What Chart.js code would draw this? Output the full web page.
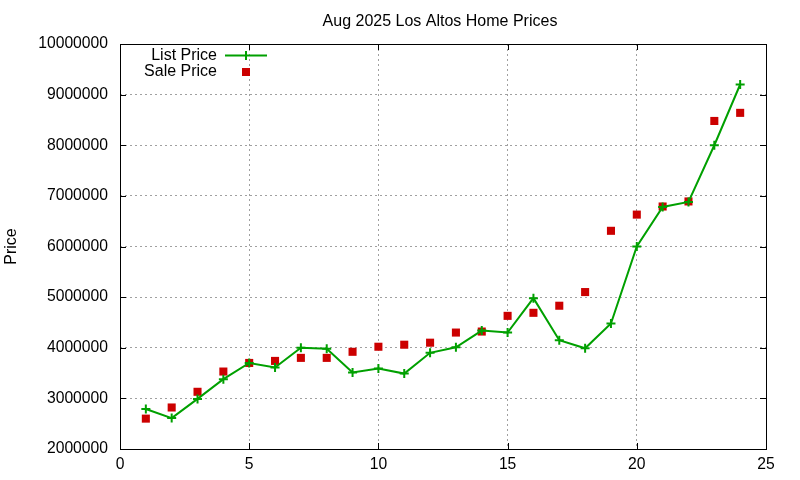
<!DOCTYPE html>
<html>
<head>
<meta charset="utf-8">
<script src="https://cdn.jsdelivr.net/npm/chart.js@4/dist/chart.umd.min.js"></script>
<style>
html,body{margin:0;padding:0;background:#fff;}
#wrap{width:800px;height:480px;}
</style>
</head>
<body>
<div id="wrap"><canvas id="c" width="800" height="480"></canvas></div>
<script>
const months = [1,2,3,4,5,6,7,8,9,10,11,12,13,14,15,16,17,18,19,20,21,22,23,24];
const listPrice = [2790000,2610000,2990000,3380000,3700000,3610000,4000000,3980000,3510000,3590000,3490000,3900000,4010000,4340000,4300000,4980000,4150000,3990000,4480000,6000000,6780000,6880000,8000000,9200000];
const salePrice = [2600000,2820000,3130000,3530000,3700000,3740000,3800000,3800000,3920000,4020000,4060000,4100000,4300000,4320000,4630000,4690000,4830000,5100000,6310000,6630000,6790000,6890000,8480000,8640000];
const xTicks = [0,5,10,15,20,25];
const yTicks = [2000000,3000000,4000000,5000000,6000000,7000000,8000000,9000000,10000000];
const titleText = 'Aug 2025 Los Altos Home Prices';
const yTitle = 'Price';
const seriesNames = ['List Price','Sale Price'];

const GREEN = 'rgb(0,160,0)';
const RED = 'rgb(204,0,0)';
const FONT = "'Liberation Sans', Arial, sans-serif";

const frame = {
  id: 'frame',
  beforeDatasetsDraw(chart) {
    const {ctx, chartArea: a, scales: {x, y}} = chart;
    ctx.save();
    ctx.strokeStyle = '#000';
    ctx.lineWidth = 1;
    ctx.beginPath();
    const L = 6;
    xTicks.forEach(v => {
      const px = Math.round(x.getPixelForValue(v)) + 0.5;
      ctx.moveTo(px, a.bottom); ctx.lineTo(px, a.bottom - L);
      ctx.moveTo(px, a.top); ctx.lineTo(px, a.top + L);
    });
    yTicks.forEach(v => {
      const py = Math.round(y.getPixelForValue(v)) + 0.5;
      ctx.moveTo(a.left, py); ctx.lineTo(a.left + L, py);
      ctx.moveTo(a.right, py); ctx.lineTo(a.right - L, py);
    });
    ctx.stroke();
    ctx.strokeRect(Math.round(a.left)+0.5, Math.round(a.top)+0.5, Math.round(a.right-a.left), Math.round(a.bottom-a.top));
    ctx.restore();
  },
  afterDraw(chart) {
    const {ctx, chartArea: a} = chart;
    ctx.save();
    ctx.fillStyle = '#000';
    ctx.font = '16px ' + FONT;
    ctx.textAlign = 'center';
    ctx.textBaseline = 'middle';
    ctx.fillText(titleText, 440, 21.5);
    ctx.save();
    ctx.translate(12, (a.top + a.bottom) / 2);
    ctx.rotate(-Math.PI / 2);
    ctx.fillText(yTitle, 0, 0);
    ctx.restore();
    // legend
    ctx.textAlign = 'right';
    ctx.fillText(seriesNames[0], 217, 56);
    ctx.fillText(seriesNames[1], 217, 72);
    ctx.strokeStyle = GREEN;
    ctx.lineWidth = 2;
    ctx.beginPath();
    ctx.moveTo(225, 55.5); ctx.lineTo(267, 55.5);
    ctx.moveTo(246, 51); ctx.lineTo(246, 60);
    ctx.stroke();
    ctx.fillStyle = RED;
    ctx.fillRect(242, 68, 8, 8);
    ctx.restore();
  }
};

new Chart(document.getElementById('c'), {
  type: 'scatter',
  plugins: [frame],
  data: {
    datasets: [
      {
        label: seriesNames[0],
        data: months.map((m, i) => ({x: m, y: listPrice[i]})),
        showLine: true,
        borderColor: GREEN,
        backgroundColor: GREEN,
        borderWidth: 2,
        pointStyle: 'cross',
        pointRadius: 4.5,
        pointBorderWidth: 2,
        pointBorderColor: GREEN,
        tension: 0,
        order: 1
      },
      {
        label: seriesNames[1],
        data: months.map((m, i) => ({x: m, y: salePrice[i]})),
        showLine: false,
        backgroundColor: RED,
        borderColor: RED,
        pointStyle: 'rect',
        pointRadius: 5.7,
        pointBorderWidth: 0,
        order: 2
      }
    ]
  },
  options: {
    responsive: false,
    animation: false,
    devicePixelRatio: 1,
    layout: {padding: {left: 0, right: 34, top: 44, bottom: 0}},
    plugins: {legend: {display: false}, title: {display: false}, tooltip: {enabled: false}},
    scales: {
      x: {
        type: 'linear', min: 0, max: 25,
        afterBuildTicks: s => { s.ticks = xTicks.map(v => ({value: v})); },
        afterFit: s => { s.height = 31; },
        ticks: {color: '#000', font: {family: FONT, size: 15.7}, padding: 6, maxRotation: 0},
        grid: {color: '#a0a0a0', lineWidth: 1, drawTicks: false, tickLength: 0},
        border: {display: false, dash: [2, 3]}
      },
      y: {
        type: 'linear', min: 2000000, max: 10000000,
        afterBuildTicks: s => { s.ticks = yTicks.map(v => ({value: v})); },
        afterFit: s => { s.width = 120; },
        ticks: {color: '#000', font: {family: FONT, size: 15.7}, padding: 12, callback: v => String(v)},
        grid: {color: '#a0a0a0', lineWidth: 1, drawTicks: false, tickLength: 0},
        border: {display: false, dash: [2, 3]}
      }
    }
  }
});
</script>
</body>
</html>
